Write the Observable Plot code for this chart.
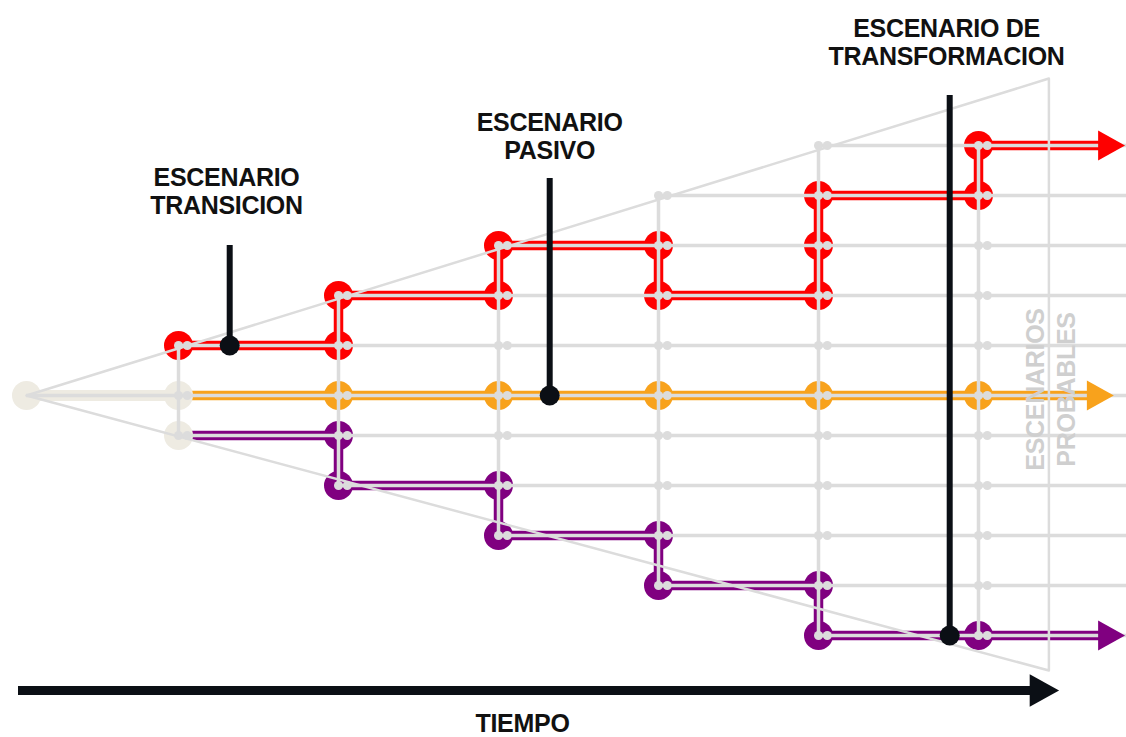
<!DOCTYPE html>
<html><head><meta charset="utf-8">
<script src="https://cdn.jsdelivr.net/npm/d3@7"></script>
<script src="https://cdn.jsdelivr.net/npm/@observablehq/plot@0.6"></script>
<style>
html,body{margin:0;padding:0;background:#fff;overflow:hidden;}
#chart svg{display:block;}
</style></head><body><div id="chart"></div>
<script>
// ---- data ----
// time steps (columns) and scenario levels (rows)
const steps = [1, 2, 3, 4, 5, 6];
const originStep = 0.05;
const upperLevels = [1, 2, 3, 4, 5];
const centerLevel = 0;
const lowerLevels = [-0.8, -1.8, -2.8, -3.8, -4.8];
const gridEnd = 7.0;

// levels visited by each scenario at each step
const seriesNames = ["transicion", "pasivo", "transformacion"];
const seriesColors = ["#fe0000", "#f8a21c", "#800080"];
const transitionLevels = [[1], [1, 2], [2, 3], [3, 2], [2, 3, 4], [4, 5]];
const passiveLevels = [[0], [0], [0], [0], [0], [0]];
const transformLevels = [[-0.8], [-0.8, -1.8], [-1.8, -2.8], [-2.8, -3.8], [-3.8, -4.8], [-4.8]];
const arrowEnds = [6.83, 6.76, 6.83];

// common start nodes (beige)
const commonNodes = [{t: 0.05, l: 0}, {t: 1, l: 0}, {t: 1, l: -0.8}];

// cone of probable scenarios
const coneEdgeStep = 6.44;
const coneTop = 6.34;
const coneBottom = -5.5;

// annotations
const annotations = [
  {label: "ESCENARIO\nTRANSICION", t: 1.32, from: 1, to: 3, textT: 1.3, textL: 4.08},
  {label: "ESCENARIO\nPASIVO", t: 3.32, from: 0, to: 4.34, textT: 3.32, textL: 5.18},
  {label: "ESCENARIO DE\nTRANSFORMACION", t: 5.82, from: -4.8, to: 6.0, textT: 5.8, textL: 7.07}
];
const timeAxis = {from: 0, to: 6.4, head: 6.41, l: -5.9, label: "TIEMPO", labelT: 3.15, labelL: -6.57};
const probables = [{text: "ESCENARIOS", t: 6.36, l: 0.12}, {text: "PROBABLES", t: 6.55, l: 0.12}];

// ---- derived tables ----
const allLevelsSeries = [transitionLevels, passiveLevels, transformLevels];
const pathPoints = [];
const circlePoints = [];
const arrowPoints = [];
allLevelsSeries.forEach((lv, si) => {
  const name = seriesNames[si];
  lv.forEach((levels, i) => levels.forEach(l => {
    pathPoints.push({t: steps[i], l, series: name});
    if (!commonNodes.some(n => n.t === steps[i] && n.l === l)) circlePoints.push({t: steps[i], l, series: name});
  }));
  const last = lv[lv.length - 1];
  const lastL = last[last.length - 1];
  pathPoints.push({t: arrowEnds[si] - 0.02, l: lastL, series: name});
  arrowPoints.push({t: arrowEnds[si], l: lastL, series: name});
});

const rows = [{l: centerLevel, start: originStep}];
upperLevels.forEach((l, i) => rows.push({l, start: steps[i]}));
lowerLevels.forEach((l, i) => rows.push({l, start: steps[i]}));

const columns = steps.map(s => {
  const k = Math.min(s, upperLevels.length) - 1;
  return {t: s, top: upperLevels[k], bottom: lowerLevels[k]};
});

const intersections = [];
columns.forEach(c => {
  rows.forEach(r => {
    if (r.l <= c.top && r.l >= c.bottom && r.start <= c.t) {
      intersections.push({t: c.t, l: r.l});
      intersections.push({t: c.t + 0.055, l: r.l});
    }
  });
});

const cone = [
  {t: originStep, l: 0}, {t: coneEdgeStep, l: coneTop},
  {t: coneEdgeStep, l: coneBottom}, {t: originStep, l: 0}
];

// right-pointing arrowhead symbol
const arrowHead = {
  draw(ctx, size) {
    const r = Math.sqrt(size / Math.PI);
    ctx.moveTo(1.25 * r, 0);
    ctx.lineTo(-1.2 * r, -1.36 * r);
    ctx.lineTo(-1.2 * r, 1.36 * r);
    ctx.closePath();
  }
};

const FONT = "'Liberation Sans', Arial, Helvetica, sans-serif";
const GRID = "#dcdcdc";
const BLACK = "#0b0f15";
const BEIGE = "#eeebe2";

const chart = Plot.plot({
  width: 1126,
  height: 737,
  margin: 0,
  x: {domain: [-0.1125, 6.925], axis: null},
  y: {domain: [-6.84, 7.9], axis: null},
  color: {domain: seriesNames, range: seriesColors},
  style: {fontFamily: FONT, background: "#fff"},
  marks: [
    // common trunk
    Plot.line([commonNodes[0], commonNodes[1]], {x: "t", y: "l", stroke: BEIGE, strokeWidth: 11}),
    // scenario paths
    Plot.line(pathPoints, {x: "t", y: "l", z: "series", stroke: "series", strokeWidth: 9.5, strokeLinejoin: "round"}),
    Plot.dot(circlePoints, {x: "t", y: "l", r: 14.5, fill: "series"}),
    Plot.dot(commonNodes, {x: "t", y: "l", r: 14.5, fill: BEIGE}),
    // cone
    Plot.line(cone, {x: "t", y: "l", stroke: GRID, strokeWidth: 2.5}),
    // grid
    Plot.ruleY(rows, {y: "l", x1: "start", x2: gridEnd, stroke: GRID, strokeWidth: 3.5}),
    Plot.ruleX(columns, {x: "t", y1: "top", y2: "bottom", stroke: GRID, strokeWidth: 3.5}),
    Plot.dot(intersections, {x: "t", y: "l", r: 4.5, fill: GRID}),
    // arrowheads
    Plot.dot(arrowPoints, {x: "t", y: "l", r: 11, fill: "series", symbol: arrowHead}),
    // probable scenarios label
    Plot.text(probables, {x: "t", y: "l", text: "text", rotate: -90, fontSize: 25, fontWeight: "bold", fill: "#cfcfcf", fontFamily: FONT}),
    // annotations
    Plot.ruleX(annotations, {x: "t", y1: "from", y2: "to", stroke: BLACK, strokeWidth: 6}),
    Plot.dot(annotations, {x: "t", y: "from", r: 10, fill: BLACK}),
    Plot.text(annotations, {x: "textT", y: "textL", text: "label", fontSize: 25, fontWeight: "bold", fill: "#111", lineHeight: 1.12, fontFamily: FONT}),
    // time axis
    Plot.ruleY([timeAxis], {y: "l", x1: "from", x2: "to", stroke: BLACK, strokeWidth: 9}),
    Plot.dot([timeAxis], {x: "head", y: "l", r: 12, fill: BLACK, symbol: arrowHead}),
    Plot.text([timeAxis], {x: "labelT", y: "labelL", text: "label", fontSize: 25, fontWeight: "bold", fill: "#111", fontFamily: FONT})
  ]
});
chart.querySelectorAll("text").forEach(t => t.style.letterSpacing = "-0.3px");
document.getElementById("chart").appendChild(chart);
</script></body></html>
